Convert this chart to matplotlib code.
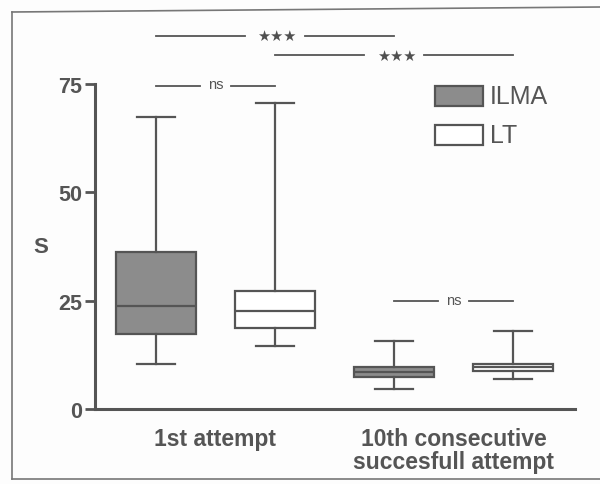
import numpy as np
import matplotlib.pyplot as plt
from matplotlib.lines import Line2D
from matplotlib.patches import Rectangle

plt.rcParams['font.family'] = ['Liberation Sans', 'DejaVu Sans']

# box statistics (seconds)
groups = ['1st attempt', '10th consecutive\nsuccesfull attempt']
series = ['ILMA', 'LT']
ilma_whislo = [10.3, 4.6]
ilma_q1 = [17.3, 7.5]
ilma_med = [23.7, 8.6]
ilma_q3 = [36.3, 9.8]
ilma_whishi = [67.5, 15.8]
lt_whislo = [14.5, 6.9]
lt_q1 = [18.6, 8.7]
lt_med = [22.6, 9.7]
lt_q3 = [27.2, 10.4]
lt_whishi = [70.7, 18.0]
yticks = [0, 25, 50, 75]
# comparisons: (box a, box b, height, label)
comparisons = [(1, 3, 86.1, '★★★'), (2, 4, 81.7, '★★★'), (1, 2, 74.6, 'ns'), (3, 4, 24.9, 'ns')]

ink = '#555555'
grey = '#8c8c8c'

fig = plt.figure(figsize=(6, 4.85), dpi=100)
fig.patch.set_facecolor('#fdfdfd')
ax = fig.add_axes([95/600, 1-410/485, 480/600, 325/485])
ax.set_facecolor('none')

stats = []
colors = []
for i in range(len(groups)):
    stats.append(dict(whislo=ilma_whislo[i], q1=ilma_q1[i], med=ilma_med[i], q3=ilma_q3[i], whishi=ilma_whishi[i], fliers=[]))
    colors.append(grey)
    stats.append(dict(whislo=lt_whislo[i], q1=lt_q1[i], med=lt_med[i], q3=lt_q3[i], whishi=lt_whishi[i], fliers=[]))
    colors.append('white')
pos = np.arange(1, len(stats) + 1)

bp = ax.bxp(stats, positions=pos, widths=0.67, capwidths=0.32, patch_artist=True, showfliers=False,
            boxprops=dict(edgecolor=ink, linewidth=1.6),
            medianprops=dict(color=ink, linewidth=1.6),
            whiskerprops=dict(color=ink, linewidth=1.6),
            capprops=dict(color=ink, linewidth=1.6))
for b, c in zip(bp['boxes'], colors):
    b.set_facecolor(c)

ax.set_xlim(0.49, 4.52)
ax.set_ylim(0, 75)
ax.set_yticks(yticks)
ax.set_xticks([])
for s in ['top', 'right']:
    ax.spines[s].set_visible(False)
for s in ['left', 'bottom']:
    ax.spines[s].set_color(ink)
    ax.spines[s].set_linewidth(2.2)
ax.tick_params(axis='y', length=7, width=2, color=ink, labelsize=15.5, labelcolor=ink, pad=2)
for t in ax.get_yticklabels():
    t.set_fontweight('bold')
ax.set_ylabel('S', rotation=0, fontsize=16, fontweight='bold', color=ink, labelpad=13, va='center')

for gi, g in enumerate(groups):
    ax.text(pos[2*gi] + 0.5, -0.055, g, transform=ax.get_xaxis_transform(), ha='center', va='top',
            fontsize=16.5, fontweight='bold', color=ink, linespacing=1.0)

for a, b, h, lab in comparisons:
    mid = (a + b) / 2
    stars = lab.startswith('★')
    gap = 0.25 if stars else 0.13
    ax.plot([a, mid - gap], [h, h], color=ink, lw=1.3, clip_on=False)
    ax.plot([mid + gap, b], [h, h], color=ink, lw=1.3, clip_on=False)
    if stars:
        ax.text(mid + 0.02, h, lab, ha='center', va='center', fontsize=10.5, family='DejaVu Sans',
                color='#505050', clip_on=False)
    else:
        ax.text(mid, h + 0.3, lab, ha='center', va='center', fontsize=10.5, color=ink, clip_on=False)

# legend drawn as figure patches
for k, (name, c) in enumerate(zip(series, [grey, 'white'])):
    y0 = 1 - (107 + 39*k)/485
    fig.patches.append(Rectangle((435/600, y0), 48/600, 20/485, transform=fig.transFigure,
                                 facecolor=c, edgecolor=ink, linewidth=1.6))
    fig.text(490/600, y0 + 10/485, name, fontsize=18, color=ink, va='center', ha='left')

# scanned frame
fig.add_artist(Line2D([12/600, 1], [1-13/485, 1-8/485], color='#777777', lw=1.2))
fig.add_artist(Line2D([12/600, 12/600], [1-13/485, 1-480/485], color='#777777', lw=1.2))
fig.add_artist(Line2D([12/600, 1], [1-480/485, 1-480/485], color='#777777', lw=1.2))

fig.savefig('out.png', dpi=100, facecolor=fig.get_facecolor())
